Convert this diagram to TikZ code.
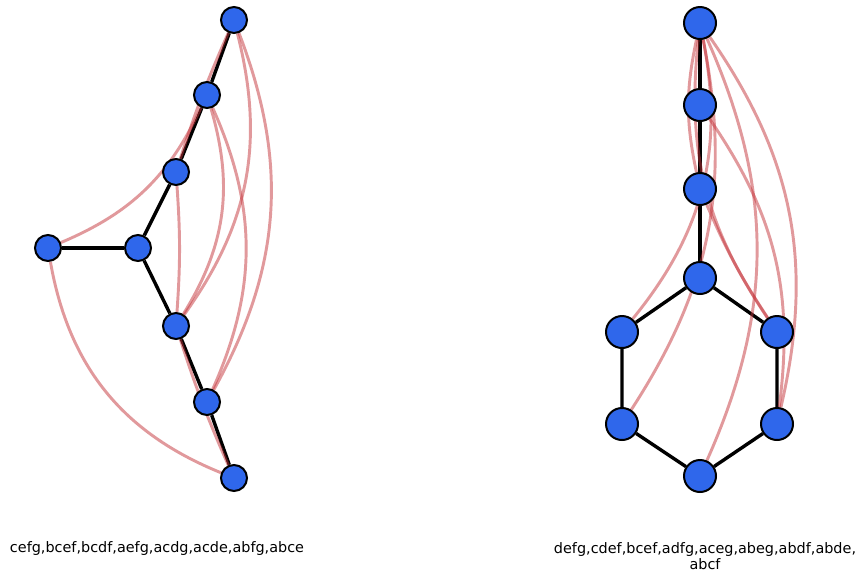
\documentclass[tikz,border=0pt]{standalone}
\usepackage{fontspec}
\setmainfont{DejaVu Sans}
\usepackage{xcolor}
\definecolor{nodeblue}{RGB}{47,103,235}
\definecolor{edgered}{RGB}{196,52,58}
\pgfdeclarelayer{background}
\pgfsetlayers{background,main}

\begin{document}
\begin{tikzpicture}[x=0.03cm,y=-0.03cm,
    vtx/.style={circle,draw=black,line width=1.7pt,fill=nodeblue,inner sep=0pt},
    small/.style={vtx,minimum size=0.78cm},
    big/.style={vtx,minimum size=0.96cm},
    tree/.style={line width=2.9pt,black},
    cross/.style={line width=2.5pt,edgered,opacity=0.5},
    caption/.style={font=\fontsize{12.3}{13.5}\selectfont,align=center}]
      \useasboundingbox (0,0) rectangle (858,574);

      % left picture
      \node at (234,20) [small] (t1) {};
      \node at (207,95) [small] (t2) {};
      \node at (176,172) [small] (t3) {};
      \node at (138,248) [small] (c) {};
      \node at (48,248) [small] (l) {};
      \node at (176,326) [small] (b1) {};
      \node at (207,402) [small] (b2) {};
      \node at (234,478) [small] (b3) {};

      % right picture
      \node at (700,23) [big] (r1) {};
      \node at (700,105) [big] (r2) {};
      \node at (700,189) [big] (r3) {};
      \node at (700,278) [big] (r4) {};
      \node at (622,332) [big] (r5) {};
      \node at (777,332) [big] (r6) {};
      \node at (622,424) [big] (r7) {};
      \node at (777,424) [big] (r8) {};
      \node at (700,476) [big] (r9) {};

      \begin{pgfonlayer}{background}
      \draw[tree] (t1) -- (t2) -- (t3) -- (c) -- (b1) -- (b2) -- (b3);
      \draw[tree] (c) -- (l);

      \draw[cross] (t1) to[bend right=3] (t3);
      \draw[cross] (t1) to[bend left=25] (b1);
      \draw[cross] (t1) to[bend left=25] (b2);
      \draw[cross] (t2) to[bend left=24] (b1);
      \draw[cross] (t2) to[bend left=24] (b2);
      \draw[cross] (t3) to[bend left=4] (b1);
      \draw[cross] (b1) to[bend right=3] (b3);
      \draw[cross] (l) to[bend right=21] (t2);
      \draw[cross] (l) to[bend right=29] (b3);

      \draw[tree] (r1) -- (r2) -- (r3) -- (r4);
      \draw[tree] (r4) -- (r5) -- (r7) -- (r9) -- (r8) -- (r6) -- (r4);

      \draw[cross] (r1) to[bend right=12] (r3);
      \draw[cross] (r1) to[bend left=25] (r5);
      \draw[cross] (r1) to[bend right=20] (r6);
      \draw[cross] (r3) to[bend right=5] (r6);
      \draw[cross] (r1) to[bend left=22] (r7);
      \draw[cross] (r1) to[bend left=24] (r9);
      \draw[cross] (r1) to[bend left=24] (r8);
      \draw[cross] (r2) to[bend left=21] (r8);
      \end{pgfonlayer}

      \node at (157,549) [caption] (capl) {cefg,bcef,bcdf,aefg,acdg,acde,abfg,abce};
      \node at (705,556) [caption] (capr) {defg,cdef,bcef,adfg,aceg,abeg,abdf,abde,\\abcf};
    \end{tikzpicture}
\end{document}
